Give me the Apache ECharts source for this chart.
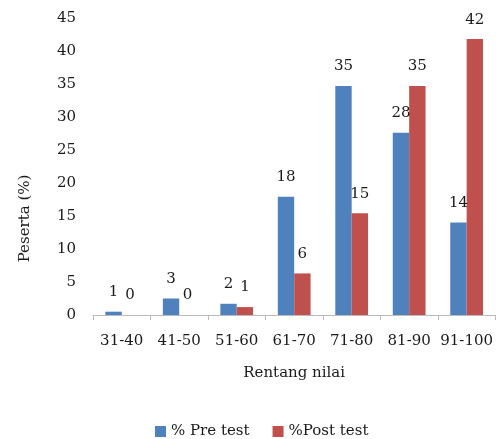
<!DOCTYPE html>
<html>
<head>
<meta charset="utf-8">
<script src="https://cdn.jsdelivr.net/npm/echarts@6/dist/echarts.min.js"></script>
<style>html,body{margin:0;padding:0;background:#fff}#c{width:496px;height:439px}</style>
</head>
<body>
<div id="c"></div>
<script>
const categories = ['31-40','41-50','51-60','61-70','71-80','81-90','91-100'];
const preTest = [0.5, 2.5, 1.7, 17.9, 34.7, 27.6, 14.0];
const postTest = [0, 0, 1.2, 6.3, 15.4, 34.7, 41.8];
const yTicks = {min: 0, max: 45, interval: 5};

const font = '"DejaVu Serif", "Liberation Serif", serif';
const txt = '#1a1a1a';
const fs = 15;
const chart = echarts.init(document.getElementById('c'), null, {renderer: 'canvas'});
const lbl = {
  show: true, position: 'top', distance: 12,
  fontFamily: font, fontSize: fs, color: txt,
  formatter: p => Math.round(p.value)
};
chart.setOption({
  animation: false,
  textStyle: {fontFamily: font},
  grid: {left: 93, right: 0, top: 18, bottom: 124},
  legend: {
    data: ['% Pre test', '%Post test'],
    left: 150, top: 419, itemWidth: 11, itemHeight: 11, itemGap: 23,
    icon: 'rect',
    textStyle: {fontFamily: font, fontSize: fs, color: txt}
  },
  xAxis: {
    type: 'category', data: categories,
    name: 'Rentang nilai', nameLocation: 'middle', nameGap: 51,
    nameTextStyle: {fontFamily: font, fontSize: fs, color: txt},
    axisLine: {lineStyle: {color: '#bbb'}},
    axisTick: {show: true, length: 5, lineStyle: {color: '#bbb'}},
    axisLabel: {fontFamily: font, fontSize: fs, color: txt, margin: 19, interval: 0}
  },
  yAxis: {
    type: 'value', min: yTicks.min, max: yTicks.max, interval: yTicks.interval,
    name: 'Peserta (%)', nameLocation: 'middle', nameGap: 60,
    nameTextStyle: {fontFamily: font, fontSize: fs, color: txt, padding: [0, 104, 0, 0]},
    axisLine: {show: false}, axisTick: {show: false},
    splitLine: {show: false},
    axisLabel: {fontFamily: font, fontSize: fs, color: txt, margin: 17}
  },
  series: [
    {name: '% Pre test', type: 'bar', data: preTest, barGap: '0%', barCategoryGap: '43%',
     itemStyle: {color: '#4F81BD'}, label: lbl},
    {name: '%Post test', type: 'bar', data: postTest,
     itemStyle: {color: '#C0504D'}, label: lbl}
  ]
});
</script>
</body>
</html>
